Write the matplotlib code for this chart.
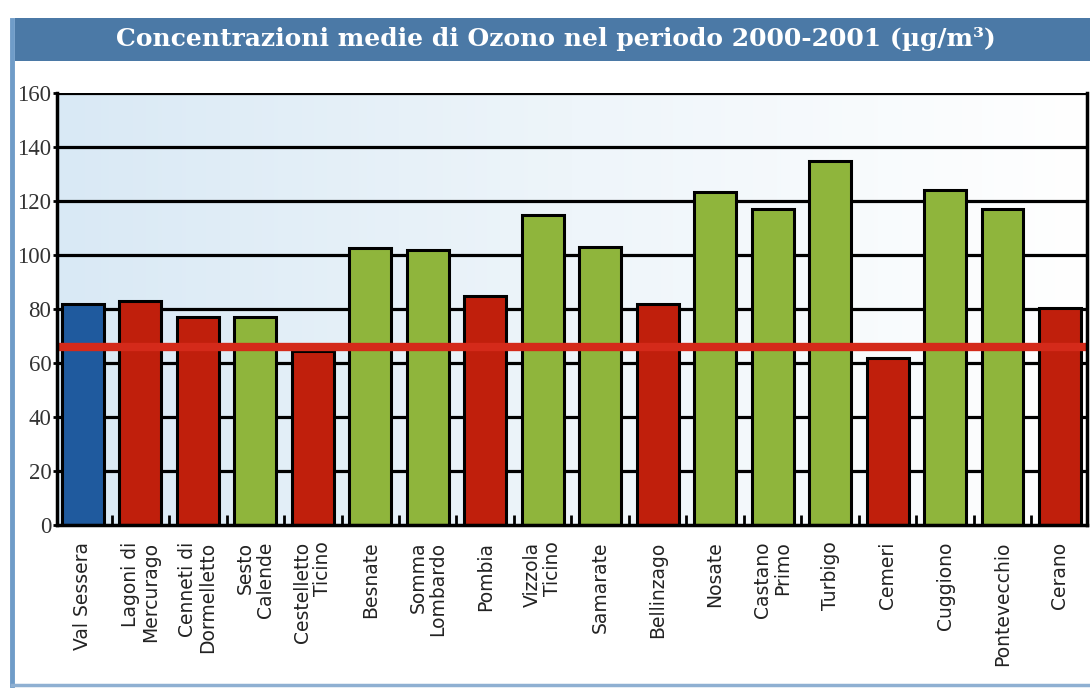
import matplotlib
matplotlib.use("Agg")
import matplotlib.pyplot as plt
import numpy as np
from matplotlib.colors import LinearSegmentedColormap
from matplotlib.patches import Rectangle
from matplotlib.lines import Line2D

stations = ["Val Sessera", "Lagoni di\nMercurago", "Cenneti di\nDormelletto", "Sesto\nCalende",
            "Cestelletto\nTicino", "Besnate", "Somma\nLombardo", "Pombia", "Vizzola\nTicino",
            "Samarate", "Bellinzago", "Nosate", "Castano\nPrimo", "Turbigo", "Cemeri",
            "Cuggiono", "Pontevecchio", "Cerano"]
values = [82, 83, 77, 77, 64.5, 102.5, 102, 85, 115, 103, 82, 123.5, 117, 135, 62, 124, 117, 80.5]
groups = ["blue", "red", "red", "green", "red", "green", "green", "red", "green",
          "green", "red", "green", "green", "green", "red", "green", "green", "red"]
mean_value = 66
yticks = [0, 20, 40, 60, 80, 100, 120, 140, 160]
title = "Concentrazioni medie di Ozono nel periodo 2000-2001 (µg/m³)"

palette = {"blue": "#1f5a9e", "red": "#c01f0c", "green": "#8fb53c"}

fig = plt.figure(figsize=(10.9, 6.9), dpi=100)
fig.patch.set_facecolor("white")

# title banner
fig.patches.append(Rectangle((15/1090, 1-61/690), 1-15/1090, 43/690, transform=fig.transFigure,
                             facecolor="#4b79a6", edgecolor="none", zorder=1))
fig.text(0.51, 1-39/690, title, ha="center", va="center", color="white",
         fontsize=18, fontweight="bold", family="DejaVu Serif", zorder=2)
# page border lines
fig.lines.append(Line2D([12/1090, 12/1090], [1-685/690, 1-20/690], transform=fig.transFigure,
                        color="#6f9cc8", lw=3.5))
fig.lines.append(Line2D([12/1090, 1], [1-685/690, 1-685/690], transform=fig.transFigure,
                        color="#8fb0d2", lw=2.5))

ax = fig.add_axes([57/1090, 1-525/690, (1087-57)/1090, (525-93)/690])

# background gradient
cmap = LinearSegmentedColormap.from_list("bg", ["#d9e9f5", "#eef5fa", "#ffffff"])
grad = np.linspace(0, 1, 256).reshape(1, -1)
ax.imshow(grad, extent=[0, 1, 0, 1], transform=ax.transAxes, aspect="auto",
          cmap=cmap, zorder=0)

x = np.arange(len(stations))
ax.bar(x, values, width=0.73, color=[palette[g] for g in groups], edgecolor="black",
       linewidth=2.2, zorder=3)
for t in yticks[1:]:
    ax.axhline(t, color="black", lw=2.3, zorder=2)
ax.axhline(mean_value, color="#d42a1a", lw=6, zorder=4)

ax.set_xlim(-0.45, 17.47)
ax.set_ylim(0, 160)
ax.set_yticks(yticks)
ax.set_yticklabels([str(t) for t in yticks], family="Liberation Serif", fontsize=16.5, color="#333333")
ax.set_xticks(x)
ax.set_xticklabels(stations, rotation=90, fontsize=13.5, color="#222222",
                   multialignment="right", family="DejaVu Sans", linespacing=1.05)
ax.tick_params(axis="x", length=0, pad=12)
ax.tick_params(axis="y", length=3, width=2, pad=1)
ax.set_xticks(x[:-1] + 0.5, minor=True)
ax.tick_params(axis="x", which="minor", direction="in", length=7, width=2, color="black")
for s in ["left", "bottom", "right"]:
    ax.spines[s].set_linewidth(2.5)
    ax.spines[s].set_color("black")
    ax.spines[s].set_zorder(5)
ax.spines["top"].set_visible(False)
ax.set_axisbelow(False)

fig.savefig("out.png", dpi=100, facecolor="white")
